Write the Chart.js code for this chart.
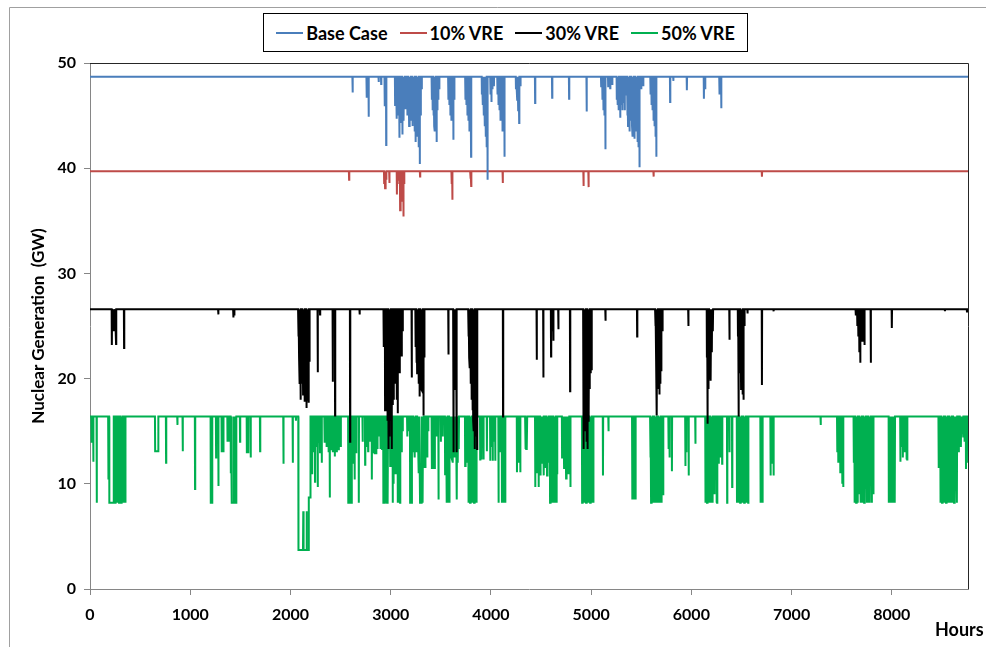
<!DOCTYPE html>
<html>
<head>
<meta charset="utf-8">
<script src="https://cdn.jsdelivr.net/npm/chart.js@4.4.1/dist/chart.umd.min.js"></script>
<style>
  html, body { margin: 0; padding: 0; background: #fff; }
  #wrap { position: relative; width: 986px; height: 647px; }
  #legend {
    position: absolute; left: 263px; top: 13px; width: 483px; height: 37px;
    border: 1px solid #000; background: #fff;
    display: flex; align-items: center; justify-content: center; gap: 12px;
    font: bold 18px Lato, sans-serif; color: #000;
  }
  #legend .item { display: flex; align-items: center; }
  #legend .swatch { width: 27px; height: 2px; margin-right: 3px; }
</style>
</head>
<body>
<div id="wrap">
  <canvas id="myChart"></canvas>
  <div id="legend"></div>
</div>
<script>
const seriesNames = ["Base Case", "10% VRE", "30% VRE", "50% VRE"];
const seriesColors = ["#4a7ebb", "#be4b48", "#000000", "#00b050"];
const seriesLevels = [48.7, 39.7, 26.6, 16.4]; // flat output, GW

const xTicks = [0, 1000, 2000, 3000, 4000, 5000, 6000, 7000, 8000];
const yTicks = [0, 10, 20, 30, 40, 50];

// each dip: [hour, GW] or a run [hour, GW, hour, GW, ...], line goes back to the flat level after it
const baseDips = [
    [2620, 47.2], [2760, 46.7], [2780, 44.9], [2880, 48.2], [2905, 48.0], [2940, 45.9], [2955, 42.2],
    [3044, 46.0], [3052, 47.0], [3060, 44.7], [3068, 46.0], [3076, 45.0], [3085, 42.9], [3093, 45.5],
    [3100, 44.3], [3108, 45.8], [3115, 43.2], [3123, 45.5], [3131, 44.5], [3140, 46.5], [3148, 45.6],
    [3157, 46.2], [3166, 45.0], [3175, 46.0], [3184, 44.0], [3192, 46.5],
    [3200, 45.4], [3208, 44.5], [3216, 44.0], [3224, 45.5], [3232, 46.0], [3240, 43.5], [3248, 42.5],
    [3256, 44.8], [3264, 43.8], [3272, 43.0], [3280, 42.0], [3290, 40.4], [3300, 45.0], [3310, 47.5],
    [3410, 46.5], [3418, 45.5], [3426, 45.0], [3434, 44.0], [3442, 43.5], [3450, 44.5], [3458, 42.5],
    [3466, 45.5], [3475, 46.5], [3485, 47.5],
    [3575, 46.5], [3585, 46.0], [3595, 45.0], [3605, 44.5], [3615, 45.5], [3625, 42.7], [3635, 46.5],
    [3745, 46.5], [3755, 46.0], [3765, 45.0], [3775, 44.5], [3785, 43.5], [3795, 44.0], [3802, 41.1],
    [3910, 47.0], [3920, 46.0], [3930, 45.0], [3940, 44.0], [3950, 43.0], [3958, 42.0], [3966, 38.9],
    [3995, 47.0], [4005, 46.3], [4015, 47.5], [4030, 47.8],
    [4065, 47.0], [4075, 46.0], [4085, 45.5], [4095, 44.5], [4105, 45.0], [4115, 43.5], [4125, 44.0], [4135, 41.1],
    [4250, 47.5], [4262, 46.5], [4272, 45.5], [4282, 44.3], [4295, 47.8],
    [4441, 46.2], [4611, 46.7], [4780, 46.6], [4955, 45.4],
    [5100, 47.8], [5112, 46.5], [5122, 45.5], [5132, 45.0], [5142, 41.8],
    [5170, 47.8], [5190, 47.6], [5210, 48.0],
    [5256, 46.5], [5266, 46.0], [5276, 45.5], [5290, 44.8], [5300, 46.0], [5312, 45.5], [5322, 46.2],
    [5335, 45.5], [5348, 47.0],
    [5360, 45.0], [5368, 44.0], [5376, 45.5], [5384, 43.5], [5392, 44.5], [5400, 45.5], [5408, 44.0],
    [5416, 43.0], [5424, 44.0], [5432, 42.8], [5440, 43.5], [5448, 44.5], [5456, 43.5], [5464, 42.5],
    [5472, 42.0], [5482, 40.1],
    [5500, 47.5], [5520, 47.8],
    [5592, 47.0], [5602, 46.0], [5612, 45.5], [5622, 44.5], [5632, 44.0], [5642, 43.0], [5650, 41.1],
    [5788, 46.3], [5820, 48.3], [5955, 47.4], [6125, 46.6], [6138, 47.5], [6280, 47.0], [6298, 45.7]
];

const vre10Dips = [
    [2585, 38.9], [2935, 38.6], [2944, 38.1], [2955, 39.0], [2987, 38.6],
    [3062, 37.5], [3070, 38.5], [3080, 38.8], [3094, 36.0], [3102, 37.2], [3110, 37.6], [3118, 36.8],
    [3127, 35.4], [3135, 38.5],
    [3293, 39.2], [3608, 38.5], [3615, 37.0], [3795, 39.0], [3803, 38.3], [4118, 38.6],
    [4924, 38.3], [4974, 38.2], [5623, 39.2], [6704, 39.2]
];

const vre30Dips = [
    [218, 23.2], [228, 25.5], [238, 24.5], [248, 25.8], [260, 23.3], [340, 22.9],
    [1280, 26.1], [1430, 25.8], [1440, 26.0],
    [2078, 24.0], [2086, 22.0], [2094, 19.5], [2102, 18.0], [2110, 19.5], [2118, 20.5], [2126, 18.5],
    [2134, 19.0], [2142, 17.8], [2150, 18.5], [2158, 17.2], [2166, 18.0], [2174, 19.5], [2182, 17.7], [2190, 21.6],
    [2272, 20.6], [2295, 26.1], [2422, 19.7], [2445, 16.5], [2595, 14.0], [2690, 26.1],
    [2930, 23.0], [2944, 17.0], [2952, 21.0], [2960, 19.0], [2968, 16.0], [2976, 13.3], [2984, 15.5],
    [2992, 14.5], [3000, 16.0], [3010, 13.3], [3020, 17.5], [3030, 18.0], [3040, 21.0], [3050, 19.5],
    [3060, 18.0], [3070, 16.7], [3080, 21.0], [3090, 20.5], [3100, 23.0], [3110, 22.1], [3120, 24.5],
    [3210, 20.1],
    [3248, 23.0], [3256, 21.5], [3264, 20.5], [3272, 22.0], [3280, 19.5], [3288, 18.3], [3296, 20.0],
    [3304, 19.0], [3312, 18.9], [3320, 21.0], [3327, 16.5], [3336, 22.0],
    [3576, 22.3],
    [3625, 13.0], [3633, 19.0], [3641, 21.0], [3650, 20.0], [3658, 13.0],
    [3775, 24.0], [3783, 22.0], [3791, 21.0], [3799, 19.5], [3807, 18.0], [3815, 17.0], [3823, 16.0],
    [3831, 15.0], [3839, 13.3], [3847, 14.5], [3855, 15.5], [3862, 13.3],
    [4121, 16.4], [4457, 21.8], [4523, 20.1], [4600, 22.1], [4612, 24.5], [4623, 23.6], [4673, 24.7], [4790, 18.8],
    [4922, 13.3], [4930, 17.0], [4938, 15.0], [4946, 18.0], [4954, 14.0], [4962, 13.3], [4970, 16.0],
    [4978, 17.0], [4986, 19.0], [4995, 20.5], [5005, 20.8],
    [5143, 25.5], [5459, 24.0],
    [5640, 25.0], [5648, 22.0], [5657, 16.5], [5665, 19.0], [5673, 20.0], [5681, 18.5], [5690, 19.5],
    [5700, 20.7], [5712, 24.5],
    [5970, 25.0],
    [6155, 22.0], [6162, 15.7], [6170, 19.0], [6178, 20.0], [6186, 21.6], [6195, 19.8], [6205, 22.5], [6215, 24.5],
    [6380, 23.7],
    [6465, 24.0], [6472, 16.4], [6480, 20.5], [6488, 22.0], [6496, 19.0], [6504, 20.0], [6512, 18.5],
    [6520, 18.0], [6530, 25.0],
    [6560, 26.2], [6704, 19.4], [6820, 26.4],
    [7640, 26.0], [7655, 25.0], [7665, 24.0], [7675, 22.5], [7685, 21.5], [7695, 23.5], [7705, 24.5],
    [7715, 23.5], [7727, 23.2],
    [7790, 21.5], [8000, 24.8], [8530, 26.4], [8750, 26.3]
];

const vre50Dips = [
    [15, 13.9], [33, 12.1], [67, 8.2], [183, 10.4], [193, 8.2, 235, 8.2],
    [250, 8.2], [258, 8.2], [266, 12.5], [274, 8.2], [282, 12.0], [290, 8.2], [297, 8.2], [304, 8.2],
    [311, 8.2], [318, 8.2], [325, 8.2], [332, 8.2], [339, 8.2], [346, 8.2], [353, 8.2],
    [650, 13.1, 680, 13.1], [759, 12.0], [872, 15.6], [925, 13.1], [1048, 9.5],
    [1205, 8.2, 1218, 8.2], [1258, 12.5], [1281, 9.8], [1314, 13.1, 1330, 13.1], [1372, 14.1, 1388, 14.1],
    [1405, 11.0], [1415, 8.2, 1435, 8.2], [1442, 8.2, 1458, 8.2], [1497, 14.0], [1565, 13.0, 1578, 13.0],
    [1603, 12.5], [1697, 13.1], [1930, 11.9], [2023, 12.0], [2055, 16.0],
    [2080, 3.7, 2125, 3.7, 2128, 7.4, 2131, 3.7, 2158, 3.7, 2161, 7.4, 2164, 3.7, 2180, 3.7, 2183, 8.7, 2198, 8.7],
    [2215, 11.0], [2230, 13.0], [2245, 10.2], [2258, 13.5], [2272, 9.7], [2285, 14.0], [2295, 13.0], [2312, 12.0],
    [2340, 13.9], [2350, 14.5], [2360, 13.5], [2370, 14.0], [2380, 13.0], [2392, 8.7], [2402, 14.0],
    [2412, 13.2], [2422, 13.0], [2432, 14.0], [2442, 12.6], [2452, 13.5], [2462, 13.0], [2472, 14.5],
    [2482, 13.2], [2492, 14.0], [2502, 13.5],
    [2577, 8.2, 2590, 8.2], [2600, 8.2, 2610, 8.2], [2625, 12.0], [2640, 10.4], [2655, 13.0], [2682, 8.2],
    [2720, 14.0], [2745, 11.8], [2760, 13.5], [2775, 13.1], [2790, 14.0], [2812, 10.4], [2825, 13.0],
    [2840, 12.8], [2855, 12.9], [2868, 13.3], [2880, 14.5],
    [2898, 13.3], [2906, 13.3], [2914, 13.3], [2927, 8.2, 2940, 8.2], [2948, 8.2], [2956, 9.9], [2964, 8.2],
    [2972, 8.2], [2980, 13.3],
    [2995, 11.7], [3003, 12.5], [3011, 11.7], [3020, 8.2], [3028, 10.0], [3040, 10.9], [3050, 10.9],
    [3060, 12.0], [3070, 8.2], [3080, 8.2], [3094, 8.2], [3110, 13.0], [3120, 15.0],
    [3165, 14.5], [3180, 15.0], [3194, 8.2, 3210, 8.2], [3218, 13.0], [3226, 13.0], [3234, 14.0],
    [3242, 12.5], [3250, 14.0], [3258, 13.0], [3266, 14.5], [3274, 13.5], [3282, 11.0], [3293, 8.2, 3305, 8.2],
    [3313, 9.7], [3321, 8.2], [3330, 11.5], [3338, 13.0], [3346, 11.5], [3355, 14.0], [3365, 12.5], [3375, 15.0],
    [3410, 11.4], [3420, 11.4], [3430, 13.0], [3440, 11.4], [3460, 14.5], [3477, 8.5], [3500, 14.0], [3520, 14.5],
    [3543, 10.9], [3551, 13.0], [3560, 8.2], [3568, 8.2], [3576, 8.2], [3584, 8.2], [3593, 13.0],
    [3601, 12.8], [3610, 13.2], [3620, 12.0], [3630, 13.5], [3640, 12.5], [3650, 14.0], [3660, 8.5],
    [3670, 12.0], [3680, 13.3],
    [3743, 11.7], [3752, 14.0], [3760, 12.0], [3776, 8.2], [3784, 8.2], [3792, 8.2], [3800, 8.2],
    [3808, 8.2], [3816, 8.2], [3824, 8.2], [3832, 8.2], [3840, 8.2], [3848, 8.2], [3856, 8.2],
    [3893, 12.3], [3905, 12.3], [3915, 13.5], [3926, 12.3], [3960, 13.1], [3993, 12.2], [4005, 13.5],
    [4018, 12.2], [4030, 14.0], [4043, 12.2],
    [4076, 8.2], [4090, 13.0], [4110, 8.2], [4118, 8.2], [4126, 8.2], [4134, 8.2], [4143, 8.2],
    [4260, 11.1], [4275, 12.0], [4293, 11.1], [4343, 13.3], [4352, 13.3], [4360, 13.3],
    [4442, 9.7], [4452, 12.5], [4462, 11.0], [4476, 9.7], [4493, 10.8], [4501, 13.0], [4510, 12.0],
    [4518, 13.5], [4527, 10.8], [4536, 12.5], [4545, 11.5], [4553, 13.0], [4560, 10.8], [4568, 13.5],
    [4576, 12.0], [4590, 8.2], [4598, 8.2], [4606, 8.2], [4614, 8.2], [4622, 8.2], [4630, 12.0],
    [4638, 8.2], [4646, 8.2], [4654, 8.2], [4660, 11.0],
    [4710, 12.5], [4720, 13.0], [4730, 11.5], [4740, 12.5], [4750, 10.5], [4760, 12.0], [4770, 11.0],
    [4780, 12.5], [4793, 9.7],
    [4910, 8.2], [4918, 8.2], [4926, 8.2], [4934, 8.2], [4942, 8.2], [4950, 8.2], [4958, 8.2],
    [4966, 8.2], [4974, 8.2], [4982, 8.2], [4990, 8.2], [4998, 12.0], [5006, 8.2], [5014, 8.2], [5022, 8.2],
    [5118, 10.8], [5173, 15.0],
    [5410, 8.5], [5420, 13.0], [5430, 8.5], [5443, 8.5],
    [5590, 12.5], [5598, 8.2], [5606, 10.0], [5614, 8.2], [5622, 8.2], [5630, 8.2], [5638, 11.5],
    [5646, 8.2], [5654, 8.2], [5662, 8.2], [5670, 8.2], [5678, 12.0], [5686, 8.2], [5694, 9.0],
    [5702, 8.2], [5710, 9.0], [5718, 9.0],
    [5772, 13.3], [5782, 12.5], [5806, 11.2], [5940, 11.7], [5950, 13.0], [5973, 10.8], [6040, 13.8],
    [6140, 8.2], [6148, 8.2], [6156, 8.2], [6164, 8.2], [6172, 8.2], [6180, 11.0], [6188, 8.2],
    [6196, 13.0], [6204, 8.2], [6212, 8.2], [6220, 12.5], [6230, 9.0], [6240, 13.5], [6250, 8.2], [6257, 8.2],
    [6273, 11.9], [6290, 12.5], [6307, 11.9], [6357, 8.2], [6380, 13.0], [6407, 9.7],
    [6455, 8.2], [6463, 8.2], [6471, 8.2], [6479, 8.2], [6487, 8.2], [6495, 8.2], [6503, 8.2],
    [6511, 8.2], [6519, 8.2], [6527, 8.2], [6535, 8.2], [6543, 8.2], [6551, 8.2], [6559, 8.2], [6567, 8.2],
    [6690, 8.2], [6700, 11.0], [6710, 8.2], [6790, 10.8], [6805, 12.0], [6820, 10.8],
    [7290, 15.6],
    [7455, 13.0], [7465, 12.0], [7475, 13.5], [7485, 11.0], [7495, 12.5], [7505, 10.0], [7515, 9.7],
    [7620, 12.0], [7628, 8.2], [7636, 8.2], [7644, 8.2], [7652, 8.2], [7660, 8.2], [7668, 11.0],
    [7676, 9.0], [7684, 12.5], [7692, 8.2], [7700, 8.2], [7708, 8.2], [7716, 8.2], [7724, 8.2],
    [7732, 8.2], [7740, 9.5], [7750, 8.2], [7758, 8.2], [7766, 8.2], [7774, 13.0], [7782, 8.2],
    [7790, 11.0], [7800, 8.2], [7808, 12.5], [7816, 9.0],
    [7970, 8.2], [7980, 11.0], [7990, 8.2], [8000, 8.2], [8010, 12.0], [8020, 8.2], [8030, 8.2],
    [8085, 12.1], [8095, 13.5], [8110, 12.5], [8130, 13.0], [8145, 12.3], [8153, 12.3],
    [8467, 11.5], [8475, 12.5], [8485, 8.2], [8493, 8.2], [8501, 8.2], [8509, 8.2], [8517, 8.2],
    [8525, 8.2], [8533, 10.0], [8541, 8.2], [8549, 8.2], [8557, 11.5], [8565, 8.2], [8573, 8.2],
    [8581, 9.0], [8589, 8.2], [8597, 8.2], [8605, 12.0], [8613, 8.2], [8621, 8.2], [8630, 8.2],
    [8640, 13.0], [8650, 8.2],
    [8668, 13.0], [8680, 14.0], [8690, 13.5], [8700, 15.0], [8712, 14.5], [8725, 14.0], [8740, 11.4], [8750, 12.0]
];

const allDips = [baseDips, vre10Dips, vre30Dips, vre50Dips];

function buildSeries(level, dips) {
    const pts = [{ x: 0, y: level }];
    dips.forEach((d) => {
        pts.push({ x: d[0] - 2, y: level });
        for (let i = 0; i < d.length; i += 2) pts.push({ x: d[i], y: d[i + 1] });
        pts.push({ x: d[d.length - 2] + 2, y: level });
    });
    pts.push({ x: 8760, y: level });
    return pts;
}

// html legend, drawn like the excel box
const legendEl = document.getElementById("legend");
seriesNames.forEach((name, i) => {
    legendEl.innerHTML += `<div class="item"><span class="swatch" style="background:${seriesColors[i]}"></span>${name}</div>`;
});

const tickFont = { family: "Lato", size: 16, weight: "bold" };

const framePlugin = {
    id: "frame",
    beforeDatasetsDraw(chart) {
        const { ctx, chartArea } = chart;
        ctx.save();
        ctx.strokeStyle = "#262626";
        ctx.lineWidth = 1;
        ctx.beginPath();
        ctx.moveTo(chartArea.left, chartArea.top + 0.5);
        ctx.lineTo(chartArea.right + 0.5, chartArea.top + 0.5);
        ctx.lineTo(chartArea.right + 0.5, chartArea.bottom);
        ctx.stroke();
        // outer chart border
        ctx.strokeStyle = "#a0a0a0";
        ctx.beginPath();
        ctx.moveTo(9.5, chart.height);
        ctx.lineTo(9.5, 7.5);
        ctx.lineTo(chart.width, 7.5);
        ctx.stroke();
        ctx.restore();
    },
    afterDraw(chart) {
        const { ctx, chartArea } = chart;
        ctx.save();
        ctx.font = "bold 18px Lato";
        ctx.fillStyle = "#000";
        ctx.textAlign = "left";
        ctx.textBaseline = "middle";
        ctx.fillText("Hours", chartArea.right - 33, 630);
        ctx.restore();
    }
};

new Chart(document.getElementById("myChart"), {
    type: "line",
    data: {
        datasets: seriesNames.map((name, i) => ({
            label: name,
            data: buildSeries(seriesLevels[i], allDips[i]),
            borderColor: seriesColors[i],
            backgroundColor: seriesColors[i],
            borderWidth: 2,
            pointRadius: 0,
            fill: false,
            tension: 0,
        })),
    },
    options: {
        responsive: true,
        maintainAspectRatio: false,
        animation: false,
        layout: { padding: { left: 10, right: 18, top: 63, bottom: 0 } },
        plugins: { legend: { display: false }, tooltip: { enabled: false } },
        scales: {
            x: {
                type: "linear",
                min: 0,
                max: 8760,
                afterBuildTicks: (scale) => { scale.ticks = xTicks.map((v) => ({ value: v })); },
                afterFit: (scale) => { scale.height = 58; },
                ticks: {
                    font: tickFont, color: "#000", padding: 10, maxRotation: 0,
                    callback: (v) => String(v),
                },
                grid: { drawOnChartArea: false, drawTicks: true, tickLength: 6, color: "#868686" },
                border: { color: "#868686", width: 1 },
            },
            y: {
                min: 0,
                max: 50,
                afterBuildTicks: (scale) => { scale.ticks = yTicks.map((v) => ({ value: v })); },
                afterFit: (scale) => { scale.width = 80; },
                ticks: { font: tickFont, color: "#000", padding: 8, callback: (v) => String(v) },
                grid: { drawOnChartArea: false, drawTicks: true, tickLength: 6, color: "#868686" },
                border: { color: "#868686", width: 1 },
                title: {
                    display: true,
                    text: "Nuclear Generation  (GW)",
                    font: { family: "Lato", size: 17, weight: "bold" },
                    color: "#000",
                    padding: { top: 18, bottom: 0 },
                },
            },
        },
    },
    plugins: [framePlugin],
});
</script>
</body>
</html>
